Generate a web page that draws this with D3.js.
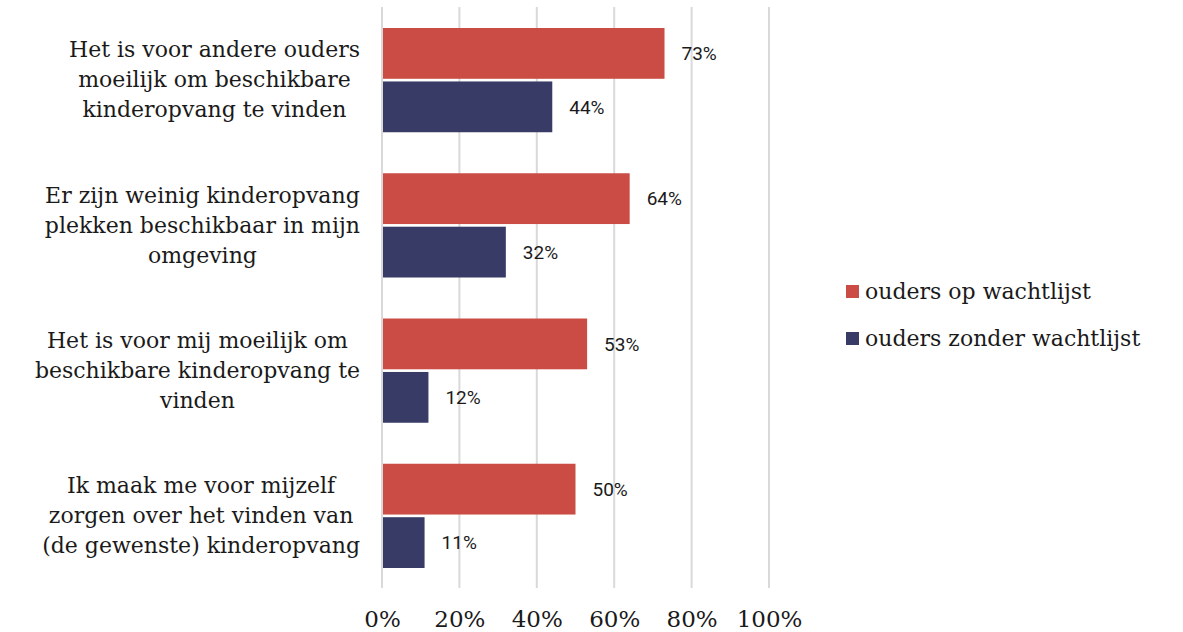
<!DOCTYPE html>
<html>
<head>
<meta charset="utf-8">
<script src="https://cdn.jsdelivr.net/npm/d3@7"></script>
<style>
  body { margin: 0; background: #fff; }
  svg { display: block; }
</style>
</head>
<body>
<div id="chart"></div>
<script>
// Chart data
const categories = [
  'Het is voor andere ouders|moeilijk om beschikbare|kinderopvang te vinden',
  'Er zijn weinig kinderopvang|plekken beschikbaar in mijn|omgeving',
  'Het is voor mij moeilijk om|beschikbare kinderopvang te|vinden',
  'Ik maak me voor mijzelf|zorgen over het vinden van|(de gewenste) kinderopvang'
]
const seriesNames = ['ouders op wachtlijst', 'ouders zonder wachtlijst']
const wachtlijst = [73, 64, 53, 50]
const zonderWachtlijst = [44, 32, 12, 11]
const xTicks = [0, 20, 40, 60, 80, 100]

const colors = ['#cb4c45', '#383b66']
const serif = '"DejaVu Serif", "Liberation Serif", serif'

const width = 1183
const height = 632
const margin = { top: 7, left: 382, right: 414, bottom: 44 }
const plotW = width - margin.left - margin.right
const plotH = height - margin.top - margin.bottom

const svg = d3.select('#chart')
  .append('svg')
  .attr('width', width)
  .attr('height', height)

const g = svg.append('g')
  .attr('transform', `translate(${margin.left}, ${margin.top})`)

const xScale = d3.scaleLinear().domain([0, 100]).range([0, plotW])
const yScale = d3.scaleBand().domain(d3.range(categories.length)).range([0, plotH])
const sub = d3.scaleBand().domain([0, 1]).range([21, yScale.bandwidth() - 20]).paddingInner(0.05)

// gridlines
g.selectAll('line.grid')
  .data(xTicks)
  .enter()
  .append('line')
  .attr('x1', (d) => xScale(d))
  .attr('x2', (d) => xScale(d))
  .attr('y1', 0)
  .attr('y2', plotH)
  .attr('stroke', '#d9d9d9')
  .attr('stroke-width', 2)

// x axis
const xAxis = d3.axisBottom(xScale)
  .tickValues(xTicks)
  .tickFormat((d) => d + '%')
  .tickSize(0)
  .tickPadding(23)

g.append('g')
  .attr('transform', `translate(0, ${plotH})`)
  .call(xAxis)
  .call((a) => a.select('.domain').remove())
  .selectAll('text')
  .attr('font-family', serif)
  .attr('font-size', 23)
  .attr('fill', '#1a1a1a')

// bars
const rows = categories.map((c, i) => ({ i, values: [wachtlijst[i], zonderWachtlijst[i]] }))

const groups = g.selectAll('g.cat')
  .data(rows)
  .enter()
  .append('g')
  .attr('transform', (d) => `translate(0, ${yScale(d.i)})`)

groups.selectAll('rect')
  .data((d) => d.values.map((v, s) => ({ v, s })))
  .enter()
  .append('rect')
  .attr('x', 1)
  .attr('y', (d) => sub(d.s))
  .attr('width', (d) => xScale(d.v) - 1)
  .attr('height', sub.bandwidth())
  .attr('fill', (d) => colors[d.s])

groups.selectAll('text.val')
  .data((d) => d.values.map((v, s) => ({ v, s })))
  .enter()
  .append('text')
  .attr('x', (d) => xScale(d.v) + 17)
  .attr('y', (d) => sub(d.s) + sub.bandwidth() / 2)
  .attr('dy', '0.35em')
  .attr('font-family', 'Roboto, sans-serif')
  .attr('font-size', 19)
  .attr('fill', '#1a1a1a')
  .text((d) => d.v + '%')

// category labels: block right-aligned, lines centred within it
groups.append('text')
  .attr('text-anchor', 'middle')
  .attr('font-family', serif)
  .attr('font-size', 22)
  .attr('fill', '#1a1a1a')
  .each(function (d) {
    const lines = categories[d.i].split('|')
    const t = d3.select(this)
    const spans = lines.map((line, k) => t.append('tspan')
      .attr('y', yScale.bandwidth() / 2 + (k - (lines.length - 1) / 2) * 30)
      .attr('dy', '0.35em')
      .text(line))
    const maxW = d3.max(spans, (s) => s.node().getComputedTextLength())
    spans.forEach((s) => s.attr('x', -22 - maxW / 2))
  })

// legend
const legend = svg.append('g').attr('transform', 'translate(846, 291)')
seriesNames.forEach((name, i) => {
  legend.append('rect')
    .attr('x', 0)
    .attr('y', i * 47 - 6)
    .attr('width', 13)
    .attr('height', 13)
    .attr('fill', colors[i])
  legend.append('text')
    .attr('x', 19)
    .attr('y', i * 47)
    .attr('dy', '0.35em')
    .attr('font-family', serif)
    .attr('font-size', 22)
    .attr('fill', '#1a1a1a')
    .text(name)
})
</script>
</body>
</html>
